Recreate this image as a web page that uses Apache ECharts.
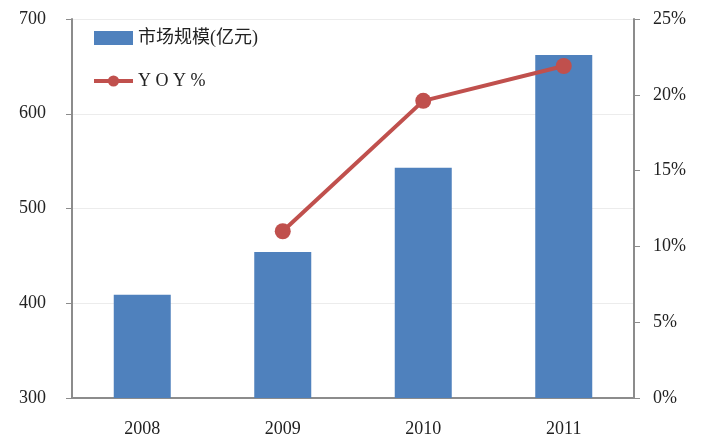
<!DOCTYPE html>
<html>
<head>
<meta charset="utf-8">
<script src="https://cdn.jsdelivr.net/npm/echarts@6/dist/echarts.min.js"></script>
<style>
  html, body { margin: 0; padding: 0; background: #fff; }
  #chart { width: 703px; height: 440px; }
</style>
</head>
<body>
<div id="chart"></div>
<script>
// data
const years = ['2008', '2009', '2010', '2011'];
const marketSize = [409, 454, 543, 662];      // 亿元
const yoy = [null, 0.11, 0.196, 0.219];       // growth rate

const FONT = '"Liberation Serif", "Noto Sans CJK SC", serif';
const AXIS_GRAY = '#8c8c8c';

const chart = echarts.init(document.getElementById('chart'));
chart.setOption({
    animation: false,
    backgroundColor: '#fff',
    textStyle: { fontFamily: FONT },
    grid: { left: 72, right: 69, top: 19, bottom: 42 },
    legend: {
        orient: 'vertical',
        left: 87,
        top: 24,
        itemGap: 25,
        itemWidth: 39,
        itemHeight: 14,
        textStyle: { fontFamily: FONT, fontSize: 18, color: '#222' },
        formatter: name => name === 'YOY%' ? 'Y O Y %' : name,
        data: [
            { name: '市场规模(亿元)', icon: 'rect', itemStyle: { color: '#4f81bd' } },
            { name: 'YOY%', lineStyle: { width: 4, color: '#c0504d' }, itemStyle: { color: '#c0504d' } }
        ]
    },
    xAxis: {
        type: 'category',
        data: years,
        axisLine: { lineStyle: { color: AXIS_GRAY, width: 2 } },
        axisTick: { alignWithLabel: false, length: 6, lineStyle: { color: AXIS_GRAY } },
        axisLabel: { fontSize: 18, color: '#222', margin: 22, fontFamily: FONT }
    },
    yAxis: [
        {
            type: 'value',
            min: 300,
            max: 700,
            interval: 100,
            axisLine: { show: true, lineStyle: { color: AXIS_GRAY, width: 2 } },
            axisTick: { show: true, length: 6, lineStyle: { color: AXIS_GRAY } },
            axisLabel: { fontSize: 18, color: '#222', margin: 26, fontFamily: FONT },
            splitLine: { lineStyle: { color: '#ececec' } }
        },
        {
            type: 'value',
            min: 0,
            max: 0.25,
            interval: 0.05,
            position: 'right',
            axisLine: { show: true, lineStyle: { color: AXIS_GRAY, width: 2 } },
            axisTick: { show: true, length: 6, lineStyle: { color: AXIS_GRAY } },
            axisLabel: {
                fontSize: 18, color: '#222', margin: 19, fontFamily: FONT,
                formatter: v => Math.round(v * 100) + '%'
            },
            splitLine: { show: false }
        }
    ],
    series: [
        {
            name: '市场规模(亿元)',
            type: 'bar',
            data: marketSize,
            barWidth: 57,
            itemStyle: { color: '#4f81bd' }
        },
        {
            name: 'YOY%',
            type: 'line',
            yAxisIndex: 1,
            data: yoy,
            symbol: 'circle',
            symbolSize: 16,
            lineStyle: { color: '#c0504d', width: 4 },
            itemStyle: { color: '#c0504d' }
        }
    ]
});
</script>
</body>
</html>
